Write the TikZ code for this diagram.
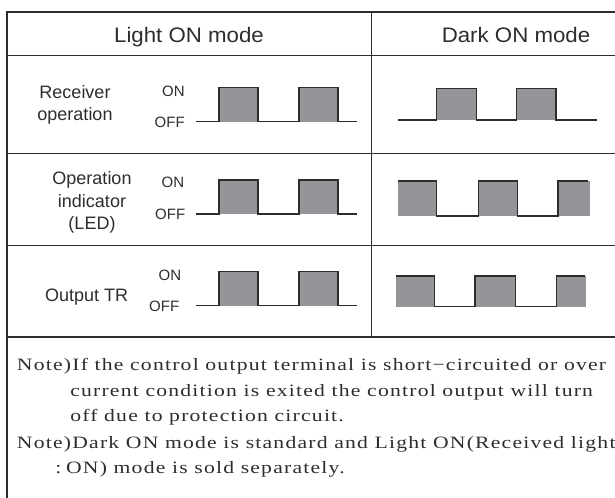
\documentclass[tikz,border=0pt]{standalone}
\usepackage{fontspec}
\setmainfont{Liberation Serif}
\newfontfamily\hdfont[FakeStretch=1.06]{Liberation Sans}
\newfontfamily\lbfont{Liberation Sans}
\newfontfamily\notefont[FakeStretch=1.25,LetterSpace=7]{Liberation Serif}
\definecolor{ink}{RGB}{45,45,45}
\definecolor{pulse}{RGB}{148,149,152}
\tikzset{
  tbl/.style={draw=ink, line width=1.1pt},
  wave/.style={draw=ink, line width=1.1pt, line join=miter},
  pfill/.style={fill=pulse},
  hdtext/.style={text=ink, inner sep=0pt, anchor=base, font=\hdfont\fontsize{15.75}{18}\selectfont},
  lbtext/.style={text=ink, inner sep=0pt, anchor=base, font=\lbfont\fontsize{13.5}{16}\selectfont},
  onoff/.style={text=ink, inner sep=0pt, anchor=base east, font=\lbfont\fontsize{11.25}{13}\selectfont},
  notetext/.style={text=ink, inner sep=0pt, anchor=base west, font=\notefont\fontsize{13}{15}\selectfont}
}
\begin{document}
\begin{tikzpicture}[x=0.75pt,y=-0.75pt]
\useasboundingbox (0,0) rectangle (615,498);
\begin{scope}
\clip (0,0) rectangle (615,498);
% table
\draw[tbl, line width=1.5pt] (6.7,12.3) -- (620,12.3);
\draw[tbl, line width=1.5pt] (6.7,11.5) -- (6.7,505);
\draw[tbl] (6.7,55.7) -- (620,55.7);
\draw[tbl] (6.7,153.5) -- (620,153.5);
\draw[tbl] (6.7,245.7) -- (620,245.7);
\draw[tbl, line width=1.9pt] (6.7,336.8) -- (620,336.8);
\draw[tbl] (371.7,12.3) -- (371.7,336.8);

% Light ON waveforms
\foreach \L/\H in {121.7/87.7, 214/180, 305.7/271.7}{
  \fill[pfill] (219,\H) rectangle (258,\L);
  \fill[pfill] (299,\H) rectangle (338,\L);
  \draw[wave] (196,\L) -- (219,\L) -- (219,\H) -- (258,\H) -- (258,\L) -- (299,\L) -- (299,\H) -- (338,\H) -- (338,\L) -- (357,\L);
}
% Dark ON row 1
\fill[pfill] (436.7,88.3) rectangle (476.7,120);
\fill[pfill] (516.7,88.3) rectangle (556,120);
\draw[wave] (398,120) -- (436.7,120) -- (436.7,88.3) -- (476.7,88.3) -- (476.7,120) -- (516.7,120) -- (516.7,88.3) -- (556,88.3) -- (556,120) -- (596.7,120);
% Dark ON row 2
\fill[pfill] (398,181) rectangle (436.7,216);
\fill[pfill] (478.3,181) rectangle (517.3,216);
\fill[pfill] (558,181) rectangle (590,216);
\draw[wave] (398,181) -- (436.7,181) -- (436.7,216) -- (478.3,216) -- (478.3,181) -- (517.3,181) -- (517.3,216) -- (558,216) -- (558,181) -- (588,181);
% Dark ON row 3
\fill[pfill] (396,276) rectangle (434.7,306.7);
\fill[pfill] (475,276) rectangle (515.7,306.7);
\fill[pfill] (556.7,276) rectangle (586,306.7);
\draw[wave] (396,276) -- (434.7,276) -- (434.7,306.7) -- (475,306.7) -- (475,276) -- (515.7,276) -- (515.7,306.7) -- (556.7,306.7) -- (556.7,276) -- (585,276);
\end{scope}

% headers
\node[hdtext] (hlight) at (189,42.7) {Light ON mode};
\node[hdtext] (hdark) at (516,42.7) {Dark ON mode};

% row labels
\node[lbtext] (rec1) at (75,98.3) {Receiver};
\node[lbtext] (rec2) at (75,120.7) {operation};
\node[lbtext] (ind1) at (92,185) {Operation};
\node[lbtext] (ind2) at (92,207.3) {indicator};
\node[lbtext] (ind3) at (92,229.3) {(LED)};
\node[lbtext] (otr) at (86.7,301.7) {Output TR};

% ON / OFF
\node[onoff] (on1) at (185,96.7) {ON};
\node[onoff] (off1) at (185,127.3) {OFF};
\node[onoff] (on2) at (184.5,187.7) {ON};
\node[onoff] (off2) at (185.5,219.3) {OFF};
\node[onoff] (on3) at (181.5,281) {ON};
\node[onoff] (off3) at (179.5,312) {OFF};

% notes
\node[notetext] (n1) at (16.7,370.7) {Note)If the control output terminal is short−circuited or over};
\node[notetext] (n2) at (70,396.7) {current condition is exited the control output will turn};
\node[notetext] (n3) at (70,421.7) {off due to protection circuit.};
\node[notetext] (n4) at (16.7,448.3) {Note)Dark ON mode is standard and Light ON(Received light};
\node[notetext] (n5) at (55,474) {:\;ON) mode is sold separately.};
\end{tikzpicture}
\end{document}
